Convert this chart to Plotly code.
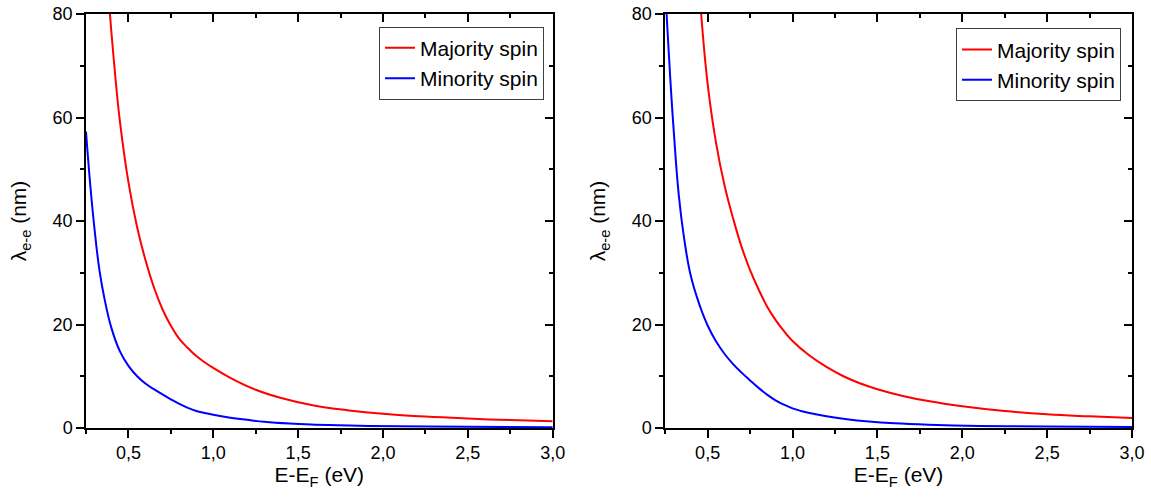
import plotly.graph_objects as go

# ---- data ----
x_maj_L = [0.391, 0.42, 0.45, 0.5, 0.55, 0.6, 0.65, 0.7, 0.75, 0.8, 0.85, 0.9, 0.95, 1.0, 1.1, 1.25, 1.4, 1.6, 1.8, 2.0, 2.25, 2.5, 2.75, 3.0]
y_maj_L = [80, 68.9, 59.2, 47.5, 39.0, 32.5, 27.2, 23.0, 19.75, 17.2, 15.45, 13.9, 12.7, 11.6, 9.7, 7.4, 5.8, 4.3, 3.4, 2.75, 2.2, 1.82, 1.53, 1.3]
x_min_L = [0.25, 0.275, 0.3, 0.33, 0.36, 0.4, 0.45, 0.5, 0.55, 0.6, 0.65, 0.7, 0.75, 0.8, 0.85, 0.9, 0.95, 1.0, 1.1, 1.2, 1.3, 1.45, 1.6, 1.8, 2.1, 2.5, 3.0]
y_min_L = [57.3, 47.0, 38.5, 30.3, 24.8, 19.3, 14.8, 12.0, 10.05, 8.6, 7.5, 6.5, 5.55, 4.65, 3.9, 3.3, 2.9, 2.55, 2.0, 1.58, 1.2, 0.85, 0.65, 0.48, 0.33, 0.22, 0.15]

x_maj_R = [0.462, 0.5, 0.55, 0.6, 0.65, 0.7, 0.75, 0.8, 0.85, 0.9, 0.95, 1.0, 1.1, 1.2, 1.3, 1.4, 1.5, 1.65, 1.8, 2.0, 2.25, 2.5, 2.75, 3.0]
y_maj_R = [80, 66.5, 55.0, 46.8, 40.5, 35.0, 30.5, 26.8, 23.5, 20.9, 18.7, 16.8, 14.0, 11.8, 10.0, 8.6, 7.5, 6.2, 5.2, 4.2, 3.28, 2.64, 2.25, 1.93]
x_min_R = [0.258, 0.28, 0.3, 0.33, 0.36, 0.4, 0.45, 0.5, 0.55, 0.6, 0.65, 0.7, 0.75, 0.8, 0.85, 0.9, 0.95, 1.0, 1.05, 1.1, 1.2, 1.32, 1.45, 1.6, 1.8, 2.1, 2.5, 3.0]
y_min_R = [80, 67.5, 57.5, 45.0, 37.0, 29.5, 24.0, 19.8, 16.7, 14.3, 12.35, 10.7, 9.2, 7.75, 6.45, 5.35, 4.5, 3.8, 3.3, 2.9, 2.25, 1.68, 1.25, 0.92, 0.65, 0.4, 0.28, 0.2]

x_ticks = [0.5, 1.0, 1.5, 2.0, 2.5, 3.0]
y_ticks = [0, 20, 40, 60, 80]
series_names = ["Majority spin", "Minority spin"]
colors = ["#FF0000", "#0000FF"]

FONT = "Liberation Sans, Arial, sans-serif"
W, H = 1151, 497

fig = go.Figure()
line_kw = dict(shape="spline", smoothing=1.2, width=2)
fig.add_trace(go.Scatter(x=x_maj_L, y=y_maj_L, mode="lines", name=series_names[0],
                         line=dict(color=colors[0], **line_kw), xaxis="x", yaxis="y", legend="legend"))
fig.add_trace(go.Scatter(x=x_min_L, y=y_min_L, mode="lines", name=series_names[1],
                         line=dict(color=colors[1], **line_kw), xaxis="x", yaxis="y", legend="legend"))
fig.add_trace(go.Scatter(x=x_maj_R, y=y_maj_R, mode="lines", name=series_names[0],
                         line=dict(color=colors[0], **line_kw), xaxis="x2", yaxis="y2", legend="legend2"))
fig.add_trace(go.Scatter(x=x_min_R, y=y_min_R, mode="lines", name=series_names[1],
                         line=dict(color=colors[1], **line_kw), xaxis="x2", yaxis="y2", legend="legend2"))
# dummy traces so mirror axes render
for xa, ya in [("x3", "y3"), ("x4", "y4")]:
    fig.add_trace(go.Scatter(x=[None], y=[None], xaxis=xa, yaxis=ya, showlegend=False, hoverinfo="skip"))

dom_x1 = [86 / W, 552.7 / W]
dom_x2 = [665.2 / W, 1132 / W]
dom_y = [1 - 428 / H, 1 - 14 / H]
xr = [0.25, 3.0]
yr = [0, 80]

tickfont = dict(family=FONT, size=18, color="black")
titlefont = dict(family=FONT, size=21, color="black")

def xbottom(domain, anchor):
    return dict(domain=domain, anchor=anchor, range=xr, showgrid=False, zeroline=False,
                showline=True, linecolor="black", linewidth=1.5,
                ticks="outside", ticklen=8, tickwidth=1.5, tickcolor="black",
                tickvals=x_ticks, tickformat=".1f", tickfont=tickfont,
                minor=dict(tick0=0.25, dtick=0.25, ticks="outside", ticklen=4, tickwidth=1.5, tickcolor="black"),
                title=dict(text="E-E<sub>F</sub> (eV)", font=titlefont, standoff=4),
                automargin=False)

def xtop(over, anchor):
    return dict(overlaying=over, anchor=anchor, side="top", range=xr, showgrid=False, zeroline=False,
                showline=True, linecolor="black", linewidth=1.5,
                ticks="inside", ticklen=8, tickwidth=1.5, tickcolor="black",
                tickvals=x_ticks, showticklabels=False,
                minor=dict(tick0=0.25, dtick=0.25, ticks="inside", ticklen=4, tickwidth=1.5, tickcolor="black"),
                automargin=False)

def yleft(anchor):
    return dict(domain=dom_y, anchor=anchor, range=yr, showgrid=False, zeroline=False,
                showline=True, linecolor="black", linewidth=1.5,
                ticks="outside", ticklen=8, tickwidth=1.5, tickcolor="black",
                tickvals=y_ticks, tickfont=tickfont,
                minor=dict(tick0=0, dtick=10, ticks="outside", ticklen=4, tickwidth=1.5, tickcolor="black"),
                title=dict(text="λ<sub>e-e</sub> (nm)", font=titlefont, standoff=20),
                automargin=False)

def yright(over, anchor):
    return dict(overlaying=over, anchor=anchor, side="right", range=yr, showgrid=False, zeroline=False,
                showline=True, linecolor="black", linewidth=1.5,
                ticks="inside", ticklen=8, tickwidth=1.5, tickcolor="black",
                tickvals=y_ticks, showticklabels=False,
                minor=dict(tick0=0, dtick=10, ticks="inside", ticklen=4, tickwidth=1.5, tickcolor="black"),
                automargin=False)

legend_common = dict(bgcolor="white", bordercolor="#404040", borderwidth=1,
                     font=dict(family=FONT, size=21, color="black"),
                     xanchor="right", yanchor="top", tracegroupgap=0, itemwidth=30)

fig.update_layout(
    width=W, height=H,
    margin=dict(l=0, r=0, t=0, b=0),
    paper_bgcolor="white", plot_bgcolor="white",
    separators=",.",
    showlegend=True,
    xaxis=xbottom(dom_x1, "y"),
    xaxis2=xbottom(dom_x2, "y2"),
    xaxis3=xtop("x", "y"),
    xaxis4=xtop("x2", "y2"),
    yaxis=yleft("x"),
    yaxis2=yleft("x2"),
    yaxis3=yright("y", "x"),
    yaxis4=yright("y2", "x2"),
    legend=dict(x=544 / W, y=1 - 26.7 / H, **legend_common),
    legend2=dict(x=1121 / W, y=1 - 28.3 / H, **legend_common),
)

fig.write_html("out.html",
               config={"displayModeBar": False},
               post_script="document.body.style.margin='0px';document.body.style.overflow='hidden';")
